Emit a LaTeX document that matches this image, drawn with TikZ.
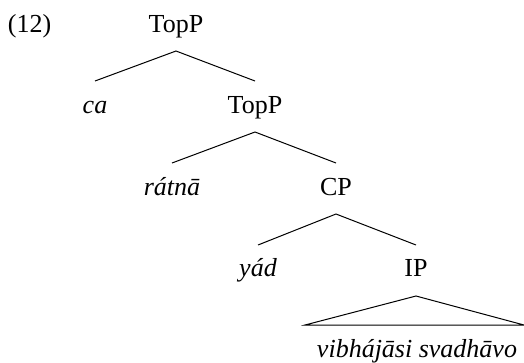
\documentclass[tikz,border=0pt]{standalone}
\usepackage{fontspec}
\setmainfont{Liberation Serif}
\begin{document}
\begin{tikzpicture}[x=1pt,y=-1pt,
  lab/.style={anchor=base,inner sep=0pt,font=\fontsize{26}{31}\selectfont},
  wrd/.style={lab,font=\fontsize{26}{31}\selectfont\itshape},
  edge/.style={line width=1pt}]
\useasboundingbox (0,0) rectangle (524,362);
\node[lab] (ex) at (29.5,32) {(12)};
\node[lab] (t1) at (176,32) {TopP};
\node[wrd] (ca) at (95,113) {ca};
\node[lab] (t2) at (255,113) {TopP};
\node[wrd] (ra) at (172,195) {rátnā};
\node[lab] (cp) at (336,195) {CP};
\node[wrd] (ya) at (258,276) {yád};
\node[lab] (ip) at (416,276) {IP};
\node[wrd] (vi) at (417,357) {vibhájāsi svadhāvo};
\draw[edge] ([yshift=32pt]ca.base) -- ([yshift=-19pt]t1.base) -- ([yshift=32pt]t2.base);
\draw[edge] ([yshift=32pt]ra.base) -- ([yshift=-19pt]t2.base) -- ([yshift=32pt]cp.base);
\draw[edge] ([yshift=31pt]ya.base) -- ([yshift=-19pt]cp.base) -- ([yshift=31pt]ip.base);
\draw[edge] ([yshift=-20pt]ip.base) -- ([xshift=-111pt,yshift=-49pt]ip.base) -- ([xshift=108pt,yshift=-49pt]ip.base) -- cycle;
\end{tikzpicture}
\end{document}
